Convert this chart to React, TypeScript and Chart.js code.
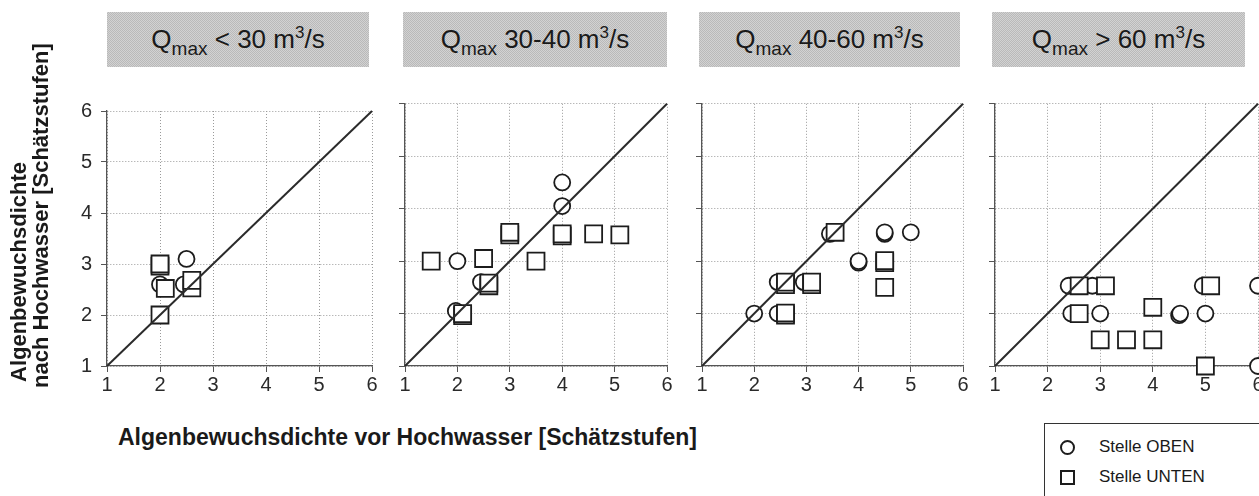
import React, { useEffect, useRef } from "react";
import { Chart, registerables } from "chart.js";

Chart.register(...registerables);

// ---- data ----
const axisTicks: number[] = [1, 2, 3, 4, 5, 6];
const panelRanges: string[] = ["< 30", "30-40", "40-60", "> 60"];
const diagonal: [number, number][] = [[1, 1], [6, 6]];

const obenLt30: [number, number][] = [[2, 2.6], [2.45, 2.6], [2.5, 3.1]];
const untenLt30: [number, number][] = [[2, 2.96], [2, 3.0], [2.1, 2.52], [2.6, 2.53], [2.6, 2.68], [2, 2]];

const oben30to40: [number, number][] = [[2, 3], [4, 4.5], [4, 4.05], [2.45, 2.6], [1.97, 2.05]];
const unten30to40: [number, number][] = [
  [1.5, 3], [2.5, 3.05], [3, 3.5], [3, 3.55], [3.5, 3], [4, 3.48], [4, 3.52],
  [4.6, 3.52], [5.1, 3.5], [2.6, 2.53], [2.6, 2.58], [2.1, 1.96], [2.1, 2.0],
];

const oben40to60: [number, number][] = [
  [2, 2], [2.45, 2.0], [2.45, 2.6], [2.95, 2.6], [3.45, 3.52], [4, 2.97], [4, 3.0],
  [4.5, 3.52], [4.5, 3.55], [5, 3.55],
];
const unten40to60: [number, number][] = [
  [2.6, 1.97], [2.6, 2.01], [2.6, 2.55], [2.6, 2.6], [3.1, 2.55], [3.1, 2.6],
  [3.55, 3.55], [4.5, 2.97], [4.5, 3.01], [4.5, 2.5],
];

const obenGt60: [number, number][] = [
  [2.4, 2.53], [2.85, 2.53], [4.95, 2.53], [6, 2.53], [2.45, 2.0], [3, 2.0],
  [4.5, 1.97], [4.52, 2.0], [5, 2.0], [6, 1.0],
];
const untenGt60: [number, number][] = [
  [2.6, 2.53], [3.1, 2.53], [5.1, 2.53], [2.6, 2.0], [4, 2.12], [3, 1.5], [3.5, 1.5], [4, 1.5], [5, 1.0],
];

const obenSeries = [obenLt30, oben30to40, oben40to60, obenGt60];
const untenSeries = [untenLt30, unten30to40, unten40to60, untenGt60];

const yTitleLines: string[] = ["Algenbewuchsdichte", "nach Hochwasser [Schätzstufen]"];
const xTitle = "Algenbewuchsdichte vor Hochwasser [Schätzstufen]";
const legendLabels: string[] = ["Stelle OBEN", "Stelle UNTEN"];

// ---- layout (positions only) ----
const FONT = "'Liberation Sans', Arial, Helvetica, sans-serif";
const plotTop = 102;
const plotBottom = 366;
const canvasTop = 90;
const canvasHeight = 310;
const panelLayout = [
  { plotLeft: 107, plotRight: 372, yWidth: 107, boxLeft: 107, boxRight: 369 },
  { plotLeft: 405, plotRight: 667, yWidth: 30, boxLeft: 403, boxRight: 667 },
  { plotLeft: 702, plotRight: 963, yWidth: 30, boxLeft: 699, boxRight: 960 },
  { plotLeft: 995, plotRight: 1258, yWidth: 30, boxLeft: 992, boxRight: 1245 },
];
const rightPad = 14;

const toPts = (arr: [number, number][]) => arr.map(([x, y]) => ({ x, y }));

function Panel({ index }: { index: number }) {
  const ref = useRef<HTMLCanvasElement | null>(null);
  const lay = panelLayout[index];
  const canvasLeft = lay.plotLeft - lay.yWidth;
  const canvasWidth = lay.plotRight + rightPad - canvasLeft;

  useEffect(() => {
    if (!ref.current) return;
    const tickFont = { family: FONT, size: 20 };
    const chart = new Chart(ref.current, {
      type: "scatter",
      data: {
        datasets: [
          {
            type: "line",
            data: toPts(diagonal),
            borderColor: "#2b2b2b",
            borderWidth: 2,
            pointRadius: 0,
            order: 0,
            clip: false,
          } as any,
          {
            data: toPts(untenSeries[index]),
            pointStyle: "rect",
            pointRadius: 12,
            pointBorderWidth: 1.8,
            pointBorderColor: "#1c1c1c",
            pointBackgroundColor: "#ffffff",
            order: 1,
            clip: false,
          } as any,
          {
            data: toPts(obenSeries[index]),
            pointStyle: "circle",
            pointRadius: 8,
            pointBorderWidth: 1.8,
            pointBorderColor: "#1c1c1c",
            pointBackgroundColor: "#ffffff",
            order: 2,
            clip: false,
          } as any,
        ],
      },
      options: {
        responsive: false,
        animation: false,
        events: [],
        layout: { padding: { top: plotTop - canvasTop, right: rightPad, left: 0, bottom: 0 } },
        plugins: { legend: { display: false }, tooltip: { enabled: false }, title: { display: false } },
        scales: {
          x: {
            type: "linear",
            min: 1,
            max: 6,
            afterBuildTicks: (s: any) => {
              s.ticks = axisTicks.map((v) => ({ value: v }));
            },
            afterFit: (s: any) => {
              s.height = canvasTop + canvasHeight - plotBottom;
            },
            ticks: { font: tickFont, color: "#2a2a2a", padding: 1, maxRotation: 0 },
            grid: { color: "#9a9a9a", lineWidth: 1, tickLength: 6, tickColor: "#555", tickWidth: 1 },
            border: { color: "#555", width: 1.3, dash: [1, 2] },
          },
          y: {
            type: "linear",
            min: 1,
            max: 6,
            afterBuildTicks: (s: any) => {
              s.ticks = axisTicks.map((v) => ({ value: v }));
            },
            afterFit: (s: any) => {
              s.width = lay.yWidth;
            },
            ticks: { display: index === 0, font: tickFont, color: "#2a2a2a", padding: 9 },
            grid: { color: "#9a9a9a", lineWidth: 1, tickLength: 6, tickColor: "#555", tickWidth: 1 },
            border: { color: "#555", width: 1.3, dash: [1, 2] },
          },
        },
      } as any,
    });
    return () => chart.destroy();
  }, [index]);

  return (
    <canvas
      ref={ref}
      width={canvasWidth}
      height={canvasHeight}
      style={{ position: "absolute", left: canvasLeft, top: canvasTop, width: canvasWidth, height: canvasHeight }}
    />
  );
}

function TitleBox({ index }: { index: number }) {
  const lay = panelLayout[index];
  return (
    <div
      style={{
        position: "absolute",
        left: lay.boxLeft,
        top: 12,
        width: lay.boxRight - lay.boxLeft,
        height: 55,
        background: "repeating-conic-gradient(#b9b9b9 0 25%, #d2d2d2 0 50%) 0 0/2px 2px",
        display: "flex",
        alignItems: "center",
        justifyContent: "center",
        fontFamily: FONT,
        fontSize: 26,
        color: "#1a1a1a",
        whiteSpace: "pre",
      }}
    >
      <span style={{ position: "relative", top: 0 }}>
        Q<span style={{ fontSize: 19, position: "relative", top: 7 }}>max</span>
        {" " + panelRanges[index] + " m"}
        <span style={{ fontSize: 17, position: "relative", top: -10 }}>3</span>/s
      </span>
    </div>
  );
}

export default function App() {
  return (
    <div
      style={{
        position: "absolute",
        left: 0,
        top: 0,
        width: 1259,
        height: 496,
        overflow: "hidden",
        background: "#ffffff",
        fontFamily: FONT,
      }}
    >
      {panelLayout.map((_, i) => (
        <TitleBox key={"t" + i} index={i} />
      ))}
      {panelLayout.map((_, i) => (
        <Panel key={"p" + i} index={i} />
      ))}
      {yTitleLines.map((line, i) => (
        <div
          key={"yt" + i}
          style={{
            position: "absolute",
            left: 8 + i * 22,
            top: i === 0 ? 382 : 388,
            transformOrigin: "0 0",
            transform: "rotate(-90deg)",
            whiteSpace: "nowrap",
            fontWeight: "bold",
            fontSize: 22,
            lineHeight: "22px",
            color: "#1a1a1a",
          }}
        >
          {line}
        </div>
      ))}
      <div
        style={{
          position: "absolute",
          left: 118,
          top: 426,
          whiteSpace: "nowrap",
          fontWeight: "bold",
          fontSize: 23,
          lineHeight: "23px",
          color: "#1a1a1a",
        }}
      >
        {xTitle}
      </div>
      <div
        style={{
          position: "absolute",
          left: 1044,
          top: 423,
          width: 240,
          height: 100,
          border: "1.5px solid #333",
          boxSizing: "border-box",
        }}
      />
      {legendLabels.map((lbl, i) => (
        <div
          key={"lg" + i}
          style={{
            position: "absolute",
            left: 1060,
            top: 438 + i * 30,
            height: 18,
            display: "flex",
            alignItems: "center",
            whiteSpace: "nowrap",
            fontSize: 17,
            color: "#1a1a1a",
          }}
        >
          <span
            style={{
              display: "inline-block",
              width: 15,
              height: 15,
              boxSizing: "border-box",
              border: "2px solid #1c1c1c",
              borderRadius: i === 0 ? "50%" : 0,
              marginRight: 24,
            }}
          />
          {lbl}
        </div>
      ))}
    </div>
  );
}
